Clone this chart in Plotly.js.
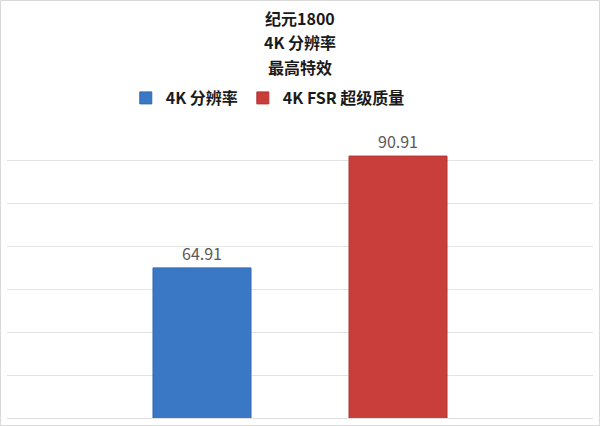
<!DOCTYPE html>
<html>
<head>
<meta charset="utf-8">
<script src="https://cdn.plot.ly/plotly-3.0.1.min.js"></script>
<style>
  html, body { margin: 0; padding: 0; background: #fff; }
  #chart { width: 600px; height: 426px; }
</style>
</head>
<body>
<div id="chart"></div>
<script>
var category = ['纪元1800'];
var seriesNames = ['4K 分辨率', '4K FSR 超级质量'];
var titleLines = ['纪元1800', '4K 分辨率', '最高特效'];
var nativeValues = [64.91];
var fsrValues = [90.91];

var font = '"Noto Sans CJK SC", "Noto Sans", sans-serif';

// plot area in pixels, used to place the paper-referenced title lines
var W = 600, H = 426, mL = 7, mR = 7, mT = 117, mB = 8;
var plotH = H - mT - mB, plotW = W - mL - mR;
function py(pix) { return (H - mB - pix) / plotH; }
function px(pix) { return (pix - mL) / plotW; }

var trace1 = {
  x: category,
  y: nativeValues,
  type: 'bar',
  name: seriesNames[0],
  marker: { color: '#3a78c6', line: { color: '#3468ad', width: 1 } },
  text: nativeValues.map(function (v) { return v.toFixed(2); }),
  textposition: 'outside',
  textfont: { family: font, size: 16, color: '#595959' },
  cliponaxis: false,
  hoverinfo: 'y'
};

var trace2 = {
  x: category,
  y: fsrValues,
  type: 'bar',
  name: seriesNames[1],
  marker: { color: '#c93d3a', line: { color: '#b13633', width: 1 } },
  text: fsrValues.map(function (v) { return v.toFixed(2); }),
  textposition: 'outside',
  textfont: { family: font, size: 16, color: '#595959' },
  cliponaxis: false,
  hoverinfo: 'y'
};

var titleY = [18, 42, 67];
var annotations = titleLines.map(function (t, i) {
  return {
    text: t, xref: 'paper', yref: 'paper',
    x: 0.5, y: py(titleY[i]), xanchor: 'center', yanchor: 'middle',
    showarrow: false,
    font: { family: font, size: 16, color: '#1a1a1a', weight: 'bold' }
  };
});

var layout = {
  width: W,
  height: H,
  margin: { l: mL, r: mR, t: mT, b: mB },
  paper_bgcolor: '#ffffff',
  plot_bgcolor: '#ffffff',
  font: { family: font, color: '#222' },
  annotations: annotations,
  barmode: 'group',
  bargap: 0.331,
  bargroupgap: 0.5,
  showlegend: true,
  legend: {
    orientation: 'h',
    x: 0.445,
    xanchor: 'center',
    y: py(98),
    yanchor: 'middle',
    font: { family: font, size: 16, color: '#1a1a1a', weight: 'bold' },
    itemwidth: 30,
    traceorder: 'normal'
  },
  xaxis: {
    showticklabels: false,
    showgrid: false,
    zeroline: false,
    showline: true,
    linecolor: '#e0e0e0',
    linewidth: 1,
    ticks: ''
  },
  yaxis: {
    range: [30, 100],
    dtick: 10,
    showticklabels: false,
    showgrid: true,
    gridcolor: '#e3e3e3',
    gridwidth: 1,
    zeroline: false,
    showline: false,
    ticks: ''
  },
  shapes: [{
    type: 'rect', xref: 'paper', yref: 'paper',
    x0: px(0.5), x1: px(599.5), y0: py(425.5), y1: py(0.5),
    line: { color: '#d9d9d9', width: 1 }
  }]
};

Plotly.newPlot('chart', [trace1, trace2], layout, { displayModeBar: false, staticPlot: true });
</script>
</body>
</html>
